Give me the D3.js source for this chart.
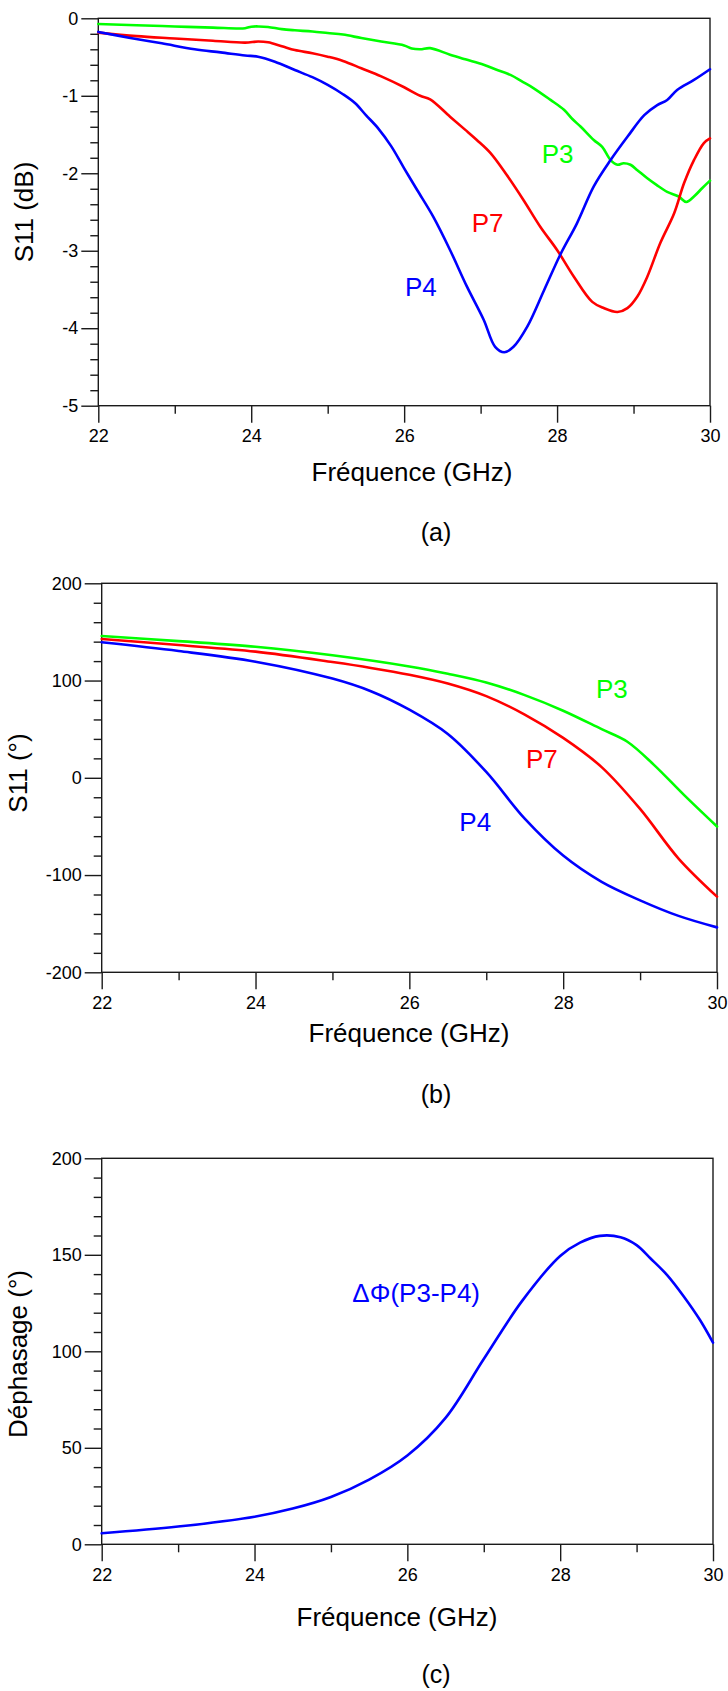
<!DOCTYPE html>
<html>
<head>
<meta charset="utf-8">
<script src="https://cdn.jsdelivr.net/npm/d3@7"></script>
<style>
  html, body { margin: 0; padding: 0; background: #fff; }
  svg { display: block; font-family: "Liberation Sans", Arial, Helvetica, sans-serif; }
</style>
</head>
<body>
<svg id="chart" width="728" height="1691"></svg>
<script>
// ---------- DATA ----------
const freqDomain = [22, 30];
const freqMajorTicks = [22, 24, 26, 28, 30];
const freqMinorTicks = [23, 25, 27, 29];

// (a) S11 magnitude (dB)
const magP3 = [[22,-0.073],[22.5,-0.09],[23,-0.105],[23.5,-0.12],[23.92,-0.128],[24.0,-0.108],[24.1,-0.105],[24.22,-0.112],[24.4,-0.14],[24.57,-0.155],[24.8,-0.17],[25.0,-0.19],[25.2,-0.21],[25.44,-0.255],[25.7,-0.3],[26.0,-0.35],[26.1,-0.39],[26.21,-0.40],[26.34,-0.385],[26.6,-0.47],[26.8,-0.53],[27.04,-0.60],[27.2,-0.66],[27.39,-0.73],[27.55,-0.82],[27.69,-0.90],[27.91,-1.05],[28.09,-1.18],[28.2,-1.3],[28.31,-1.40],[28.48,-1.57],[28.59,-1.66],[28.7,-1.83],[28.79,-1.89],[28.87,-1.87],[28.96,-1.89],[29.05,-1.96],[29.18,-2.065],[29.3,-2.15],[29.44,-2.24],[29.59,-2.30],[29.69,-2.37],[29.79,-2.30],[29.9,-2.19],[30.0,-2.095]];
const magP7 = [[22,-0.185],[22.5,-0.23],[23,-0.26],[23.5,-0.29],[23.92,-0.314],[24.09,-0.30],[24.22,-0.31],[24.4,-0.36],[24.57,-0.41],[24.8,-0.45],[25.0,-0.495],[25.2,-0.55],[25.44,-0.645],[25.7,-0.75],[26.0,-0.89],[26.21,-1.00],[26.34,-1.046],[26.6,-1.27],[26.8,-1.44],[26.95,-1.57],[27.13,-1.74],[27.34,-2.02],[27.56,-2.345],[27.78,-2.69],[28.0,-2.99],[28.22,-3.335],[28.46,-3.66],[28.61,-3.74],[28.79,-3.79],[28.92,-3.74],[29.05,-3.59],[29.18,-3.335],[29.35,-2.90],[29.53,-2.52],[29.66,-2.13],[29.79,-1.83],[29.92,-1.61],[30.0,-1.55]];
const magP4 = [[22,-0.176],[22.4,-0.25],[22.83,-0.323],[23.26,-0.40],[23.6,-0.44],[23.92,-0.48],[24.09,-0.495],[24.31,-0.56],[24.57,-0.667],[24.8,-0.76],[25.0,-0.86],[25.2,-0.98],[25.36,-1.097],[25.5,-1.25],[25.66,-1.42],[25.83,-1.65],[26.0,-1.936],[26.17,-2.216],[26.38,-2.56],[26.6,-2.99],[26.82,-3.46],[27.04,-3.89],[27.19,-4.24],[27.31,-4.31],[27.43,-4.24],[27.61,-3.98],[27.83,-3.51],[28.04,-3.055],[28.26,-2.646],[28.48,-2.17],[28.7,-1.83],[28.92,-1.53],[29.14,-1.25],[29.31,-1.12],[29.44,-1.054],[29.57,-0.925],[29.79,-0.796],[30.0,-0.658]];
const magTicks = [0, -1, -2, -3, -4, -5];

// (b) S11 phase (degrees)
const phaseP3 = [[22,145.8],[23,140.5],[24,134.8],[25,126],[26,114.5],[26.5,107],[27,98],[27.5,85],[28,69],[28.5,50],[28.83,37.3],[29.18,13.3],[29.57,-17.6],[30,-50.1]];
const phaseP7 = [[22,142.7],[23,136.5],[24,129.7],[25,119],[25.5,113],[26,106],[26.5,97],[27,84],[27.5,65],[28,41],[28.5,11],[29,-32],[29.5,-83],[30,-122.2]];
const phaseP4 = [[22,139.3],[23,130.4],[24,119.4],[25,102],[25.5,89],[26,70],[26.5,45],[27,6],[27.5,-42],[28,-80],[28.5,-107],[29,-126],[29.5,-142],[30,-153.8]];
const phaseTicks = [200, 100, 0, -100, -200];

// (c) phase difference P3-P4 (degrees)
const deltaPhase = [[22,5.7],[23,9.2],[24,14.3],[24.5,18.5],[25,24.5],[25.5,33.5],[26,46],[26.5,65.5],[27,96],[27.5,126],[28,149.4],[28.26,156.3],[28.52,159.8],[28.79,159.1],[29,155],[29.18,148.2],[29.4,139.5],[29.62,128.3],[29.83,116.2],[30,104.5]];
const deltaTicks = [0, 50, 100, 150, 200];

// ---------- DRAWING ----------
const svg = d3.select("#chart");
svg.append("rect").attr("width", 728).attr("height", 1691).attr("fill", "#fff");

const GREEN = "#00ff00", RED = "#ff0000", BLUE = "#0000ff";
const fmt = d => String(d);

function panel(cfg) {
  const x = d3.scaleLinear().domain(freqDomain).range([cfg.left, cfg.right]);
  const y = d3.scaleLinear().domain(cfg.yDomain).range([cfg.bottom, cfg.top]);
  const g = svg.append("g");

  g.append("rect")
    .attr("x", cfg.left).attr("y", cfg.top)
    .attr("width", cfg.right - cfg.left).attr("height", cfg.bottom - cfg.top)
    .attr("fill", "none").attr("stroke", "#1a1a1a").attr("stroke-width", 1.4);

  const xMaj = g.append("g").attr("transform", `translate(0,${cfg.bottom})`)
    .call(d3.axisBottom(x).tickValues(freqMajorTicks).tickSize(17).tickSizeOuter(0).tickPadding(7).tickFormat(fmt));
  const xMin = g.append("g").attr("transform", `translate(0,${cfg.bottom})`)
    .call(d3.axisBottom(x).tickValues(freqMinorTicks).tickSize(8).tickSizeOuter(0).tickFormat(""));
  const yMaj = g.append("g").attr("transform", `translate(${cfg.left},0)`)
    .call(d3.axisLeft(y).tickValues(cfg.yTicks).tickSize(17).tickSizeOuter(0).tickPadding(3).tickFormat(fmt));
  const minorVals = d3.range(cfg.yDomain[0], cfg.yDomain[1] + cfg.yMinor / 2, cfg.yMinor)
    .filter(v => !cfg.yTicks.some(t => Math.abs(t - v) < 1e-9));
  const yMin = g.append("g").attr("transform", `translate(${cfg.left},0)`)
    .call(d3.axisLeft(y).tickValues(minorVals).tickSize(8).tickSizeOuter(0).tickFormat(""));

  [xMaj, xMin, yMaj, yMin].forEach(a => {
    a.select(".domain").remove();
    a.selectAll("line").attr("stroke", "#1a1a1a").attr("stroke-width", 1.4);
    a.selectAll("text").attr("font-size", 18).attr("fill", "#000")
      .attr("font-family", "'Liberation Sans', Arial, sans-serif");
  });

  const line = d3.line().x(d => x(d[0])).y(d => y(d[1])).curve(cfg.curve);
  cfg.series.forEach(s => {
    g.append("path").datum(s.data)
      .attr("fill", "none").attr("stroke", s.color)
      .attr("stroke-width", 2.6).attr("stroke-linejoin", "round").attr("stroke-linecap", "round")
      .attr("d", line);
  });

  cfg.labels.forEach(l => {
    g.append("text").attr("x", x(l.f)).attr("y", y(l.v))
      .attr("font-size", 26).attr("fill", l.color).text(l.text);
  });

  g.append("text").attr("x", cfg.xLabelX).attr("y", cfg.xLabelY)
    .attr("text-anchor", "middle").attr("font-size", 26).attr("fill", "#000")
    .text("Fréquence (GHz)");
  g.append("text")
    .attr("transform", `translate(${cfg.yLabelX},${cfg.yLabelY}) rotate(-90)`)
    .attr("text-anchor", "middle").attr("dominant-baseline", "central")
    .attr("font-size", 26).attr("fill", "#000").text(cfg.yLabel);
  g.append("text").attr("x", cfg.capX).attr("y", cfg.capY)
    .attr("text-anchor", "middle").attr("font-size", 25).attr("fill", "#000")
    .text(cfg.caption);
}

panel({
  left: 98.3, right: 710, top: 18.3, bottom: 405.7,
  yDomain: [-5, 0], yTicks: magTicks, yMinor: 0.2,
  curve: d3.curveCatmullRom.alpha(0.5),
  series: [{data: magP3, color: GREEN}, {data: magP7, color: RED}, {data: magP4, color: BLUE}],
  labels: [{text: "P3", f: 27.8, v: -1.87, color: GREEN},
           {text: "P7", f: 26.884, v: -2.762, color: RED},
           {text: "P4", f: 26.011, v: -3.58, color: BLUE}],
  xLabelX: 412, xLabelY: 481, yLabel: "S11 (dB)", yLabelX: 24, yLabelY: 212,
  caption: "(a)", capX: 436, capY: 541
});

panel({
  left: 101.7, right: 717, top: 583.3, bottom: 972.3,
  yDomain: [-200, 200], yTicks: phaseTicks, yMinor: 20,
  curve: d3.curveCatmullRom.alpha(0.5),
  series: [{data: phaseP3, color: GREEN}, {data: phaseP7, color: RED}, {data: phaseP4, color: BLUE}],
  labels: [{text: "P3", f: 28.427, v: 81.75, color: GREEN},
           {text: "P7", f: 27.517, v: 9.77, color: RED},
           {text: "P4", f: 26.65, v: -54.7, color: BLUE}],
  xLabelX: 409, xLabelY: 1042, yLabel: "S11 (°)", yLabelX: 18, yLabelY: 773,
  caption: "(b)", capX: 436, capY: 1103
});

panel({
  left: 101.7, right: 713, top: 1158.3, bottom: 1544.3,
  yDomain: [0, 200], yTicks: deltaTicks, yMinor: 10,
  curve: d3.curveCatmullRom.alpha(0.5),
  series: [{data: deltaPhase, color: BLUE}],
  labels: [{text: "ΔΦ(P3-P4)", f: 25.28, v: 125.7, color: BLUE}],
  xLabelX: 397, xLabelY: 1626, yLabel: "Déphasage (°)", yLabelX: 17.5, yLabelY: 1354,
  caption: "(c)", capX: 436, capY: 1683
});
</script>
</body>
</html>
